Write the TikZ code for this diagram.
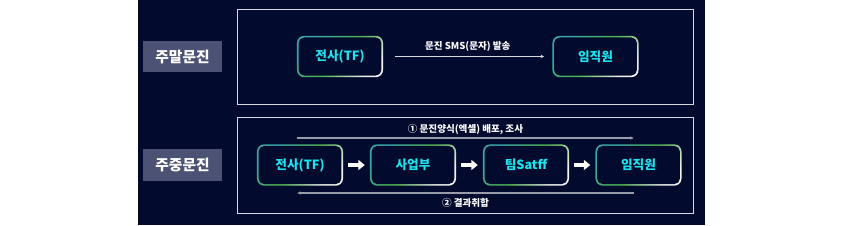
\documentclass[tikz,border=0pt]{standalone}
\usepackage{fontspec}
\setmainfont{Noto Sans CJK KR}
\usetikzlibrary{arrows.meta}
\definecolor{BgClr}{HTML}{020A2E}
\definecolor{TagClr}{HTML}{4B5274}
\definecolor{TxtClr}{HTML}{1CE3EE}
\definecolor{EdgeA}{HTML}{3AA6A8}
\definecolor{EdgeB}{HTML}{4FB04A}
\definecolor{EdgeC}{HTML}{F4F4F4}
\definecolor{FrameClr}{HTML}{D8D8E0}
\definecolor{LineClr}{HTML}{9A9CAA}

\begin{document}
\begin{tikzpicture}[x=0.025cm,y=-0.025cm,
  tagbox/.style={fill=TagClr,text=white,inner sep=0pt,
    minimum width=1.98cm,minimum height=0.78cm,
    font=\bfseries\fontsize{10.5}{12}\selectfont},
  stepbox/.style={rounded corners=5pt,inner sep=0pt,
    minimum width=2.15cm,minimum height=1.03cm,
    top color=EdgeA,bottom color=EdgeC,middle color=EdgeB,shading angle=45,
    path picture={\fill[BgClr,rounded corners=4pt]
      ([shift={(1.1pt,1.1pt)}]path picture bounding box.south west) rectangle
      ([shift={(-1.1pt,-1.1pt)}]path picture bounding box.north east);},
    text=TxtClr,font=\bfseries\fontsize{9}{10}\selectfont},
  frame/.style={draw=FrameClr,line width=0.7pt},
  note/.style={text=white,font=\bfseries\fontsize{6.8}{8}\selectfont,inner sep=1pt},
  fatarrow/.style={-{Triangle[length=4.5pt,width=7pt]},white,line width=2.6pt,
    shorten <=3.5pt,shorten >=3.5pt},
  thinarrow/.style={-{Latex[length=2.5pt,width=2.5pt]},FrameClr,line width=0.6pt}]

\useasboundingbox (0,0) rectangle (844,225);
\fill[BgClr] (138,0) rectangle (705,225);

\draw[frame] (237,9) rectangle (693,104);
\draw[frame] (237,117) rectangle (693,213);

\node[tagbox] (weekend) at (182.5,56.5) {주말문진};
\node[tagbox] (weekday) at (182.5,165) {주중문진};

% weekend
\node[stepbox] (tf1) at (340,56.5) {전사(TF)};
\node[stepbox] (emp1) at (595.5,56.5) {임직원};

\draw[thinarrow,shorten <=8.5pt,shorten >=5.5pt] (tf1) -- (emp1)
  node[note,midway,above=2pt] {문진 SMS(문자) 발송};

% weekday
\node[stepbox] (tf2) at (300,165) {전사(TF)};
\node[stepbox] (biz) at (413,165) {사업부};
\node[stepbox] (team) at (526,165) {팀Satff};
\node[stepbox] (emp2) at (638.5,165) {임직원};

\draw[fatarrow] (tf2) -- (biz);
\draw[fatarrow] (biz) -- (team);
\draw[fatarrow] (team) -- (emp2);

\coordinate (sendL) at (297,138);
\coordinate (sendR) at (634,138);
\coordinate (backL) at (297,193);
\coordinate (backR) at (634,193);

\draw[thinarrow,LineClr,line width=1.2pt] (sendL) -- (sendR)
  node[note,midway,above=1pt] {① 문진양식(엑셀) 배포, 조사};
\draw[thinarrow,LineClr,line width=1.2pt] (backR) -- (backL)
  node[note,midway,below=2pt] {② 결과취합};

\end{tikzpicture}
\end{document}
